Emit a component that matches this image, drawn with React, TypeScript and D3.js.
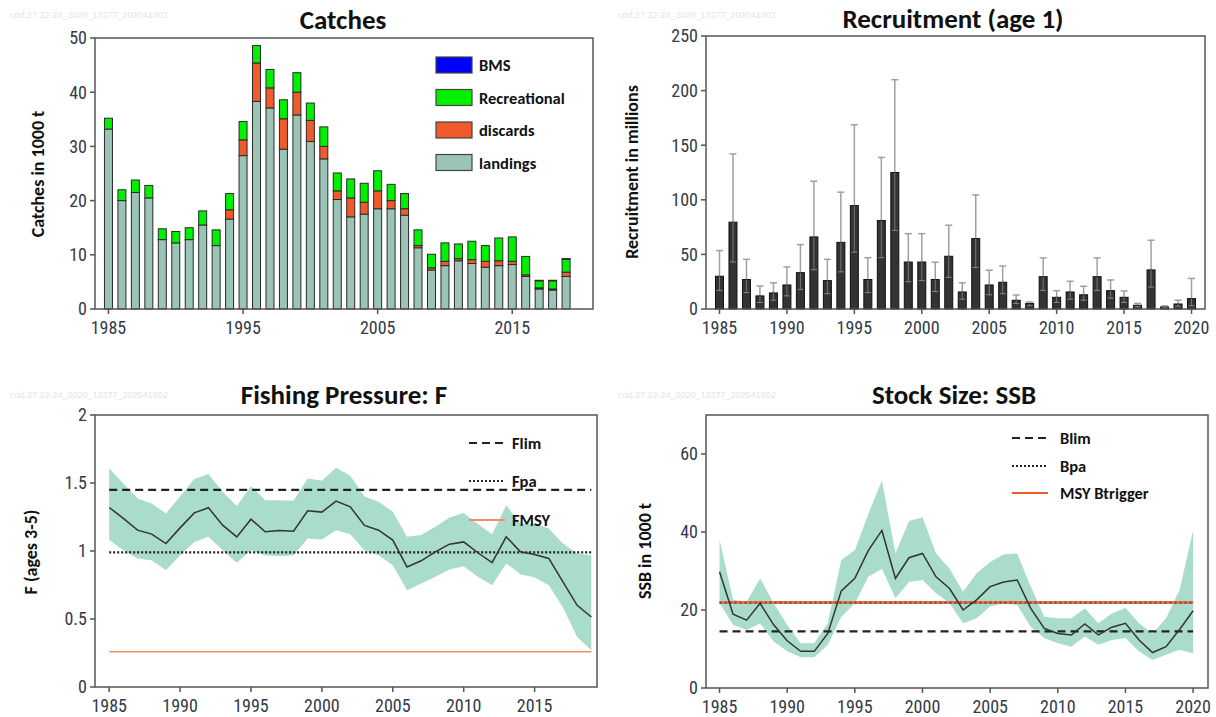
import React from 'react';
import * as d3 from 'd3';

// ---------- DATA ----------
const catchYears = [1985,1986,1987,1988,1989,1990,1991,1992,1993,1994,1995,1996,1997,1998,1999,2000,2001,2002,2003,2004,2005,2006,2007,2008,2009,2010,2011,2012,2013,2014,2015,2016,2017,2018,2019];
const landings = [33.2,20.0,21.5,20.5,12.8,12.2,12.8,15.5,11.7,16.6,28.3,38.3,37.1,29.5,35.8,30.9,27.7,20.2,17.0,17.5,18.5,18.5,17.3,11.3,7.2,8.0,8.9,8.4,7.7,8.0,8.2,6.0,3.7,3.5,6.0];
const discards = [0,0,0,0,0,0,0,0,0,1.7,2.9,7.1,3.7,5.6,4.2,3.9,2.3,1.6,3.5,2.2,3.3,1.5,1.2,0.4,0.4,0.8,0.4,0.7,1.1,0.9,0.6,0.3,0.2,0.2,0.8];
const recreational = [2.0,2.0,2.3,2.3,2.0,2.1,2.2,2.6,2.9,3.0,3.4,3.2,3.4,3.5,3.6,3.2,3.6,3.3,3.5,3.5,3.7,3.0,2.8,2.9,2.5,3.4,2.7,3.4,2.9,4.2,4.5,3.4,1.3,1.5,2.4];
const bms = [0,0,0,0,0,0,0,0,0,0,0,0,0,0,0,0,0,0,0,0,0,0,0,0,0,0,0,0,0,0,0,0,0.1,0.1,0.1];

const recYears = [1985,1986,1987,1988,1989,1990,1991,1992,1993,1994,1995,1996,1997,1998,1999,2000,2001,2002,2003,2004,2005,2006,2007,2008,2009,2010,2011,2012,2013,2014,2015,2016,2017,2018,2019,2020];
const recruitment = [30,79.5,27,12,14.7,22,33.3,66,26,61,94.7,27,81,125,43,43,27,48.3,15.6,64.5,22,24.5,8,5,29.6,10.7,15.6,13,29.6,16.8,10.7,3.4,35.8,1.8,4.6,9.5];
const recLow = [17,43,15,6,8,12,18,36,14,34,52,15,47,72,25,26,16,29,9,38,13,14,5,3,17,6,9,8,17,10,6,2,20,1,2.5,3];
const recHigh = [53.5,142,45.5,21,24,38.5,59,117,45.5,107,168.7,47,138.8,210,69,69,42.8,76.7,24,104.5,35.5,39.4,12.8,6.4,46.8,16.8,25.4,20.8,46.8,26.6,16.5,5.2,63,2.8,8,28];

const fYears = catchYears;
const fishingF = [1.32,1.24,1.153,1.124,1.055,1.17,1.28,1.318,1.19,1.104,1.234,1.141,1.151,1.146,1.296,1.286,1.367,1.325,1.188,1.153,1.08,0.883,0.928,0.994,1.05,1.067,0.987,0.915,1.104,0.994,0.974,0.945,0.773,0.601,0.515];
const fHigh = [1.607,1.497,1.386,1.35,1.276,1.4,1.529,1.566,1.436,1.33,1.477,1.374,1.374,1.37,1.534,1.517,1.612,1.553,1.4,1.362,1.288,1.104,1.117,1.178,1.247,1.28,1.198,1.124,1.337,1.202,1.202,1.166,1.055,0.982,0.969];
const fLow = [1.08,1.006,0.945,0.932,0.859,0.969,1.067,1.104,1.006,0.913,1.006,0.969,0.962,0.969,1.092,1.085,1.153,1.124,1.006,0.969,0.896,0.712,0.761,0.81,0.864,0.888,0.81,0.748,0.908,0.829,0.805,0.748,0.584,0.368,0.27];
const Flim = 1.45;
const Fpa = 0.99;
const FMSY = 0.26;

const ssbYears = recYears;
const ssb = [29.8,18.9,17.4,21.7,16.2,12.1,9.4,9.4,14,24.9,28.1,35.3,40.4,28.1,33.4,34.5,28.5,25.5,20,22.6,26,27.2,27.7,20.4,15.3,14,13.6,16.4,13.6,15.6,16.6,12.3,9.1,10.6,15,19.8];
const ssbHigh = [38,22.6,22.1,28.1,21.7,16.2,11.5,11.5,16.6,32.8,35.3,44.7,53.2,34.5,42.8,43.8,34.5,30.6,24.7,29.4,32.3,34.3,34.5,26,18.3,17.9,17.9,20.4,16.6,19.1,20.6,16.6,14,17.9,25.1,40.4];
const ssbLow = [21.7,16.2,14.9,16.6,11.9,9.4,7.9,7.9,11.1,18.3,21.7,28.5,30.6,23,27.2,27.7,24.3,21.7,16.6,17.9,20.9,21.7,21.3,15.7,12.8,11.5,10.6,13.2,11.1,12.3,12.8,9.4,7.2,8.5,9.8,8.9];
const Blim = 14.5;
const Bpa = 21.9;
const MSYBtrigger = 21.9;

const catchTicksX = [1985,1995,2005,2015];
const catchTicksY = [0,10,20,30,40,50];
const recTicksX = [1985,1990,1995,2000,2005,2010,2015,2020];
const recTicksY = [0,50,100,150,200,250];
const fTicksX = [1985,1990,1995,2000,2005,2010,2015];
const fTicksY = [0,0.5,1,1.5,2];
const fTickLabels = ['0','0.5','1','1.5','2'];
const ssbTicksX = [1985,1990,1995,2000,2005,2010,2015,2020];
const ssbTicksY = [0,20,40,60];

const catchSeries = ['landings','discards','Recreational','BMS'];
const catchColors: Record<string,string> = {landings:'#9bc4b6', discards:'#ef5b2b', Recreational:'#00f000', BMS:'#0000ff'};
const legendOrder = ['BMS','Recreational','discards','landings'];
const watermark = 'cod.27.22-24_2020_13377_202041802';

// ---------- STYLE ----------
const tickFont = "'Liberation Sans Narrow','Arial Narrow','Roboto Condensed',sans-serif";
const titleFont = "Carlito,Lato,'Open Sans',sans-serif";
const axisColor = '#555';
const tickTextColor = '#333a48';
const legendSize = 16.5;

function Frame({x0,x1,y0,y1}:{x0:number;x1:number;y0:number;y1:number}) {
  return <rect x={x0} y={y0} width={x1-x0} height={y1-y0} fill="none" stroke={axisColor} strokeWidth={1.5}/>;
}

function XAxis({scale, ticks, y, labels}:{scale:any; ticks:number[]; y:number; labels?:string[]}) {
  return <g>
    {ticks.map((t,i)=>(<g key={i}>
      <line x1={scale(t)} x2={scale(t)} y1={y} y2={y+5} stroke={axisColor} strokeWidth={1.5}/>
      <text x={scale(t)} y={y+24.5} textAnchor="middle" fontFamily={tickFont} fontSize={18} fill={tickTextColor}>{labels?labels[i]:String(t)}</text>
    </g>))}
  </g>;
}

function YAxis({scale, ticks, x, labels}:{scale:any; ticks:number[]; x:number; labels?:string[]}) {
  return <g>
    {ticks.map((t,i)=>(<g key={i}>
      <line x1={x-5} x2={x} y1={scale(t)} y2={scale(t)} stroke={axisColor} strokeWidth={1.5}/>
      <text x={x-8} y={scale(t)} dy="0.36em" textAnchor="end" fontFamily={tickFont} fontSize={18} fill={tickTextColor}>{labels?labels[i]:String(t)}</text>
    </g>))}
  </g>;
}

function Title({x,y,text}:{x:number;y:number;text:string}) {
  return <text x={x} y={y} textAnchor="middle" fontFamily={titleFont} fontWeight="bold" fontSize={27} fill="#111">{text}</text>;
}
function YTitle({x,y,text}:{x:number;y:number;text:string}) {
  return <text transform={`translate(${x},${y}) rotate(-90)`} textAnchor="middle" fontFamily={titleFont} fontWeight="bold" fontSize={18} fill="#111">{text}</text>;
}
function Watermark({x,y}:{x:number;y:number}) {
  return <text x={x} y={y} fontFamily="'Liberation Sans',sans-serif" fontSize={9} fill="#e4e4e4">{watermark}</text>;
}
function LegendText({x,y,text}:{x:number;y:number;text:string}) {
  return <text x={x} y={y} fontFamily={titleFont} fontWeight="bold" fontSize={legendSize} fill="#111">{text}</text>;
}

function CatchesPanel() {
  const X0=95, X1=593, Y0=38, Y1=309;
  const x = d3.scaleLinear().domain([1984,2021]).range([X0,X1]);
  const y = d3.scaleLinear().domain([0,50]).range([Y1,Y0]);
  const rows = catchYears.map((yr,i)=>({year:yr, landings:landings[i], discards:discards[i], Recreational:recreational[i], BMS:bms[i]}));
  const stacked = d3.stack<any>().keys(catchSeries)(rows);
  const bw = 8;
  return <g>
    <Watermark x={10} y={18}/>
    <Title x={343} y={29} text="Catches"/>
    <YTitle x={44} y={174} text="Catches in 1000 t"/>
    {stacked.map(s=>(<g key={s.key}>
      {s.map((d:any,i:number)=> (d[1]-d[0])>0 ? <rect key={i} x={x(rows[i].year)-bw/2} y={y(d[1])} width={bw} height={y(d[0])-y(d[1])} fill={catchColors[s.key]} stroke="#2a2a2a" strokeWidth={1}/> : null)}
    </g>))}
    <Frame x0={X0} x1={X1} y0={Y0} y1={Y1}/>
    <XAxis scale={x} ticks={catchTicksX} y={Y1}/>
    <YAxis scale={y} ticks={catchTicksY} x={X0}/>
    {legendOrder.map((k,i)=>(<g key={k}>
      <rect x={436} y={57+i*32.5} width={36} height={16} fill={catchColors[k]} stroke="#444" strokeWidth={1.2}/>
      <LegendText x={479} y={71+i*32.5} text={k}/>
    </g>))}
  </g>;
}

function RecruitmentPanel() {
  const X0=706, X1=1205, Y0=36, Y1=309;
  const x = d3.scaleLinear().domain([1984,2021]).range([X0,X1]);
  const y = d3.scaleLinear().domain([0,250]).range([Y1,Y0]);
  const bw = 8;
  return <g>
    <Watermark x={618} y={18}/>
    <Title x={953} y={28} text="Recruitment (age 1)"/>
    <YTitle x={638} y={172} text="Recruitment in millions"/>
    {recYears.map((yr,i)=>(<g key={yr}>
      <line x1={x(yr)} x2={x(yr)} y1={y(recLow[i])} y2={y(recHigh[i])} stroke="#a0a0a0" strokeWidth={1.5}/>
      <line x1={x(yr)-3.5} x2={x(yr)+3.5} y1={y(recHigh[i])} y2={y(recHigh[i])} stroke="#a0a0a0" strokeWidth={1.5}/>
      <rect x={x(yr)-bw/2} y={y(recruitment[i])} width={bw} height={Y1-y(recruitment[i])} fill="#333" stroke="#111" strokeWidth={1}/>
      <line x1={x(yr)} x2={x(yr)} y1={y(recLow[i])} y2={y(Math.min(recHigh[i],recruitment[i]))} stroke="#777" strokeWidth={1}/>
      <line x1={x(yr)-3} x2={x(yr)+3} y1={y(recLow[i])} y2={y(recLow[i])} stroke="#888" strokeWidth={1}/>
    </g>))}
    <Frame x0={X0} x1={X1} y0={Y0} y1={Y1}/>
    <XAxis scale={x} ticks={recTicksX} y={Y1}/>
    <YAxis scale={y} ticks={recTicksY} x={X0}/>
  </g>;
}

function FPanel() {
  const X0=95, X1=597, Y0=415, Y1=687;
  const x = d3.scaleLinear().domain([1984,2019.4]).range([X0,X1]);
  const y = d3.scaleLinear().domain([0,2]).range([Y1,Y0]);
  const area = d3.area<number>().x((d,i)=>x(fYears[i])).y0((d,i)=>y(fLow[i])).y1((d,i)=>y(fHigh[i]));
  const line = d3.line<number>().x((d,i)=>x(fYears[i])).y((d)=>y(d));
  const xa = x(fYears[0]), xb = x(fYears[fYears.length-1]);
  return <g>
    <Watermark x={10} y={398}/>
    <Title x={344} y={404} text="Fishing Pressure: F"/>
    <YTitle x={37} y={552} text="F (ages 3-5)"/>
    <path d={area(fishingF) || ''} fill="#a9dccb"/>
    <line x1={xa} x2={xb} y1={y(Flim)} y2={y(Flim)} stroke="#222" strokeWidth={2.2} strokeDasharray="8,5"/>
    <line x1={xa} x2={xb} y1={y(Fpa)} y2={y(Fpa)} stroke="#222" strokeWidth={2.2} strokeDasharray="2,2"/>
    <line x1={xa} x2={xb} y1={y(FMSY)} y2={y(FMSY)} stroke="#f4896b" strokeWidth={1.5}/>
    <path d={line(fishingF) || ''} fill="none" stroke="#333" strokeWidth={1.5}/>
    <Frame x0={X0} x1={X1} y0={Y0} y1={Y1}/>
    <XAxis scale={x} ticks={fTicksX} y={Y1}/>
    <YAxis scale={y} ticks={fTicksY} x={X0} labels={fTickLabels}/>
    <line x1={469} x2={505} y1={443} y2={443} stroke="#222" strokeWidth={2.2} strokeDasharray="8,5"/>
    <LegendText x={512} y={449} text="Flim"/>
    <line x1={469} x2={505} y1={481} y2={481} stroke="#222" strokeWidth={2.2} strokeDasharray="2,2"/>
    <LegendText x={512} y={487} text="Fpa"/>
    <line x1={469} x2={505} y1={520} y2={520} stroke="#f4896b" strokeWidth={2}/>
    <LegendText x={512} y={526} text="FMSY"/>
  </g>;
}

function SSBPanel() {
  const X0=706, X1=1208, Y0=415, Y1=688;
  const x = d3.scaleLinear().domain([1984,2021.1]).range([X0,X1]);
  const y = d3.scaleLinear().domain([0,70]).range([Y1,Y0]);
  const area = d3.area<number>().x((d,i)=>x(ssbYears[i])).y0((d,i)=>y(ssbLow[i])).y1((d,i)=>y(ssbHigh[i]));
  const line = d3.line<number>().x((d,i)=>x(ssbYears[i])).y((d)=>y(d));
  const xa = x(ssbYears[0]), xb = x(ssbYears[ssbYears.length-1]);
  return <g>
    <Watermark x={618} y={398}/>
    <Title x={954} y={404} text="Stock Size: SSB"/>
    <YTitle x={651} y={551} text="SSB in 1000 t"/>
    <path d={area(ssb) || ''} fill="#a9dccb"/>
    <line x1={xa} x2={xb} y1={y(MSYBtrigger)} y2={y(MSYBtrigger)} stroke="#e8734f" strokeWidth={3}/>
    <line x1={xa} x2={xb} y1={y(Bpa)} y2={y(Bpa)} stroke="#7a4a3a" strokeWidth={2.2} strokeDasharray="2,3"/>
    <line x1={xa} x2={xb} y1={y(Blim)} y2={y(Blim)} stroke="#222" strokeWidth={2.2} strokeDasharray="8,5"/>
    <path d={line(ssb) || ''} fill="none" stroke="#333" strokeWidth={1.5}/>
    <Frame x0={X0} x1={X1} y0={Y0} y1={Y1}/>
    <XAxis scale={x} ticks={ssbTicksX} y={Y1}/>
    <YAxis scale={y} ticks={ssbTicksY} x={X0}/>
    <line x1={1012} x2={1048} y1={438} y2={438} stroke="#222" strokeWidth={2.2} strokeDasharray="8,5"/>
    <LegendText x={1060} y={444} text="Blim"/>
    <line x1={1012} x2={1048} y1={466} y2={466} stroke="#222" strokeWidth={2.2} strokeDasharray="2,2"/>
    <LegendText x={1060} y={472} text="Bpa"/>
    <line x1={1012} x2={1048} y1={493} y2={493} stroke="#f05a28" strokeWidth={2}/>
    <LegendText x={1060} y={499} text="MSY Btrigger"/>
  </g>;
}

export default function App() {
  return (
    <svg width={1216} height={717} style={{position:'absolute', left:0, top:0, background:'#fff'}}>
      <rect x={0} y={0} width={1216} height={717} fill="#fff"/>
      <CatchesPanel/>
      <RecruitmentPanel/>
      <FPanel/>
      <SSBPanel/>
    </svg>
  );
}
